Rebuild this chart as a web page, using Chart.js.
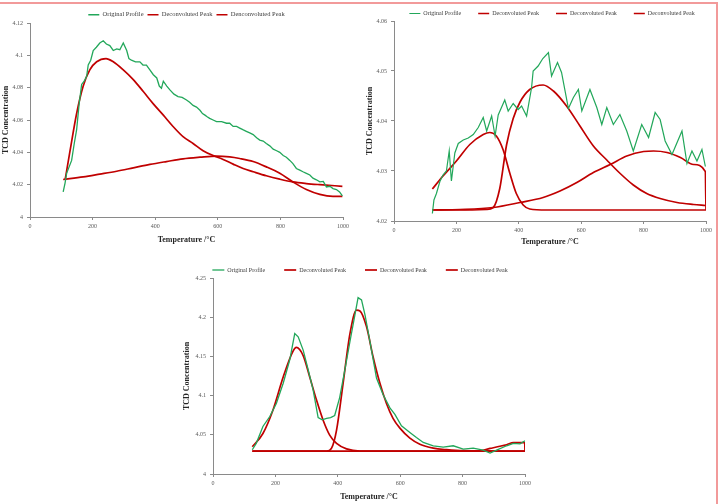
<!DOCTYPE html>
<html><head><meta charset="utf-8">
<script src="https://cdn.jsdelivr.net/npm/chart.js@4.4.1/dist/chart.umd.min.js"></script>
<style>
html,body{margin:0;padding:0;background:#fff;width:721px;height:504px;overflow:hidden;position:relative}
canvas{position:absolute}
#frame{position:absolute;left:-10px;top:2px;width:728px;height:600px;border-top:2px solid #f29a9a;border-right:2px solid #f29a9a;box-sizing:border-box}
</style></head><body>
<div id="frame"></div>
<canvas id="c1" width="360" height="252" style="left:0;top:0"></canvas>
<canvas id="c2" width="361" height="252" style="left:360px;top:0"></canvas>
<canvas id="c3" width="360" height="252" style="left:180px;top:252px"></canvas>
<script>
// ---------- data ----------
const xTicks = [0, 200, 400, 600, 800, 1000];
const yTicks1 = [4, 4.02, 4.04, 4.06, 4.08, 4.1, 4.12];
const yTicks2 = [4.02, 4.03, 4.04, 4.05, 4.06];
const yTicks3 = [4, 4.05, 4.1, 4.15, 4.2, 4.25];

const labels1 = ['Original Profile', 'Deconvoluted Peak', 'Denconvoluted Peak'];
const labels2 = ['Original Profile', 'Deconvoluted Peak', 'Deconvoluted Peak', 'Deconvoluted Peak'];
const labels3 = ['Original Profile', 'Deconvoluted Peak', 'Deconvoluted Peak', 'Deconvoluted Peak'];

// Chart 1
const c1OrigT = [106,112,117,125,133,141,149,157,165,173,181,186,194,202,212,223,234,244,255,266,277,287,298,309,316,324,337,351,361,372,383,394,405,413,420,426,437,447,460,473,486,500,510,521,532,543,551,559,566,574,585,596,612,628,638,649,660,670,680,691,702,713,724,734,745,755,766,777,788,798,809,819,830,840,851,862,872,883,894,904,915,926,937,947,958,968,979,989,998];
const c1OrigV = [4.0155,4.021,4.027,4.031,4.035,4.045,4.054,4.070,4.082,4.084,4.087,4.094,4.097,4.103,4.105,4.1076,4.109,4.107,4.106,4.103,4.104,4.1035,4.1077,4.103,4.098,4.097,4.096,4.096,4.094,4.094,4.091,4.088,4.086,4.081,4.0797,4.084,4.081,4.0786,4.076,4.0745,4.074,4.0724,4.071,4.069,4.068,4.066,4.064,4.063,4.062,4.061,4.060,4.059,4.059,4.058,4.058,4.056,4.056,4.055,4.054,4.053,4.052,4.051,4.049,4.0476,4.047,4.0455,4.044,4.042,4.041,4.040,4.038,4.037,4.035,4.033,4.030,4.029,4.028,4.027,4.026,4.024,4.023,4.0217,4.022,4.0186,4.019,4.0176,4.017,4.0155,4.013];
const c1P1T = [112,128,149,170,191,213,243,266,298,330,362,394,426,457,489,521,553,585,617,649,681,713,755,798,840,883,926,998];
const c1P1V = [4.0228,4.041,4.064,4.081,4.091,4.096,4.098,4.096,4.091,4.085,4.0776,4.070,4.063,4.056,4.0497,4.0455,4.041,4.038,4.0356,4.0327,4.030,4.028,4.0255,4.0234,4.0217,4.0207,4.020,4.019];
const c1P2T = [106,170,223,277,330,383,436,489,543,596,638,670,713,755,798,840,883,926,968,998];
const c1P2V = [4.0232,4.0248,4.0265,4.0283,4.0304,4.0325,4.0343,4.036,4.037,4.0377,4.0372,4.0362,4.0343,4.031,4.027,4.0217,4.017,4.014,4.0128,4.0128];

// Chart 2
const c2OrigT = [123,128,136,147,157,168,177,184,195,206,222,238,254,270,286,297,313,324,334,355,366,382,398,409,425,441,446,462,477,495,505,524,537,559,575,591,602,628,650,666,682,703,724,746,767,794,816,837,853,869,891,923,939,955,971,987,998];
const c2OrigV = [4.0215,4.0242,4.0255,4.0279,4.0292,4.030,4.034,4.028,4.0336,4.0355,4.0362,4.0366,4.0373,4.0387,4.0407,4.038,4.041,4.037,4.0412,4.0442,4.042,4.0435,4.0423,4.043,4.041,4.0467,4.050,4.051,4.0525,4.0537,4.049,4.0517,4.0497,4.0425,4.0447,4.0463,4.042,4.0463,4.0427,4.0393,4.0427,4.0393,4.0413,4.038,4.034,4.0393,4.0367,4.0417,4.0403,4.036,4.0333,4.038,4.0315,4.034,4.032,4.0343,4.0309];
const c2P1T = [123,157,200,243,286,307,328,350,371,392,414,435,489,600,1000];
const c2P1V = [4.0264,4.029,4.032,4.0353,4.0373,4.0377,4.037,4.0342,4.0296,4.0255,4.0232,4.0224,4.0222,4.0222,4.0222];
const c2P2T = [123,211,297,318,339,361,382,404,435,478,511,553,596,639,682,725,767,810,853,907,960,998];
const c2P2V = [4.0222,4.0222,4.0223,4.0227,4.0265,4.0353,4.0405,4.0438,4.0463,4.0472,4.046,4.043,4.039,4.035,4.0322,4.0295,4.0272,4.0255,4.0245,4.0237,4.0233,4.0231];
const c2P3T = [123,211,318,404,478,532,586,639,693,746,800,832,875,918,960,998,999,1000];
const c2P3V = [4.0222,4.0223,4.0227,4.0237,4.0247,4.026,4.0277,4.0297,4.0313,4.033,4.0339,4.034,4.0337,4.0327,4.0313,4.0299,4.026,4.0222];

// Chart 3
const c3OrigT = [126,139,160,182,203,225,246,262,273,289,305,321,337,350,364,377,390,406,422,439,455,465,476,487,503,524,545,567,583,604,631,652,674,706,738,770,802,834,866,888,909,941,963,984,1000];
const c3OrigV = [4.0309,4.0394,4.0606,4.0733,4.090,4.1157,4.1457,4.1792,4.175,4.158,4.133,4.107,4.072,4.069,4.071,4.072,4.0746,4.0975,4.1314,4.169,4.2034,4.225,4.222,4.2034,4.169,4.1225,4.1013,4.0843,4.076,4.0614,4.053,4.0466,4.0403,4.036,4.0343,4.036,4.0318,4.033,4.0305,4.0267,4.0305,4.036,4.039,4.0385,4.0424];
const c3P1T = [126,160,192,225,257,267,289,310,332,353,374,396,428,471,1000];
const c3P1V = [4.0347,4.0517,4.0814,4.1237,4.157,4.1614,4.151,4.1237,4.094,4.0686,4.0496,4.039,4.032,4.0293,4.0292];
const c3P2T = [126,364,380,396,417,439,460,471,492,513,535,556,577,599,631,663,706,749,802,1000];
const c3P2V = [4.0292,4.0292,4.033,4.056,4.1157,4.179,4.209,4.208,4.188,4.1496,4.1157,4.090,4.071,4.0585,4.0458,4.038,4.033,4.031,4.0297,4.0292];
const c3P3T = [126,845,888,941,963,999,1000];
const c3P3V = [4.0292,4.0292,4.0326,4.0373,4.040,4.040,4.0292];

// ---------- helpers ----------
const F = 'Liberation Serif';
const GREEN = '#22a75a', RED = '#c00000', AX = '#8a8a8a', TC = '#595959';
function pts(T, V) { return T.map((t, i) => ({x: t, y: V[i]})); }
function ds(label, T, V, color, w, smooth) {
  return {label, data: pts(T, V), borderColor: color, backgroundColor: color, borderWidth: w,
    pointRadius: 0, fill: false, tension: 0, cubicInterpolationMode: smooth ? 'monotone' : 'default'};
}
function legendFix(H, dx, dy) {
  return {id: 'legendFix', beforeInit(chart) {
    const lg = chart.legend;
    const fit = lg.fit.bind(lg);
    lg.fit = function () { this.maxWidth = 3000; fit(); this.height = H; };
    const draw = lg.draw.bind(lg);
    lg.draw = function () {
      const l = this.left, r = this.right, b = this.bottom;
      this.left = l - 300; this.right = r + 300; this.bottom = this.top + 100;
      const c = chart.ctx; c.save(); c.translate(dx, dy); draw(); c.restore();
      this.left = l; this.right = r; this.bottom = b;
    };
  }};
}
function make(id, c) {
  return new Chart(document.getElementById(id), {
    type: 'line',
    data: {datasets: c.datasets},
    plugins: [legendFix(c.legH, c.ldx, c.ldy)],
    options: {
      responsive: false, animation: false, devicePixelRatio: 1,
      layout: {padding: {left: 0, right: c.padR, top: 0, bottom: 0}},
      plugins: {
        legend: {display: true, position: 'top', fullSize: false,
          labels: {usePointStyle: true, pointStyle: 'line', pointStyleWidth: c.bw, padding: c.lp,
            color: '#404040', font: {family: F, size: c.lfs}}},
        tooltip: {enabled: false}
      },
      scales: {
        x: {type: 'linear', min: 0, max: 1000,
          afterBuildTicks: s => { s.ticks = xTicks.map(v => ({value: v})); },
          afterFit: s => { s.height = c.xh; },
          grid: {drawOnChartArea: false, tickLength: 3, color: AX},
          border: {color: AX, width: 1},
          ticks: {autoSkip: false, maxRotation: 0, padding: 3, color: TC, font: {family: F, size: 6}, callback: v => String(v)},
          title: {display: true, text: 'Temperature /°C', color: '#262626', padding: c.xtp,
            font: {family: F, size: 8, weight: 'bold'}}
        },
        y: {type: 'linear', min: c.ymin, max: c.ymax,
          afterBuildTicks: s => { s.ticks = c.yTicks.map(v => ({value: v})); },
          afterFit: s => { s.width = c.yw; },
          grid: {drawOnChartArea: false, tickLength: 3, color: AX},
          border: {color: AX, width: 1},
          ticks: {autoSkip: false, padding: 4, color: TC, font: {family: F, size: 6}, callback: v => String(v)},
          title: {display: true, text: 'TCD Concentration', color: '#262626', padding: c.ytp,
            font: {family: F, size: 8, weight: 'bold'}}
        }
      }
    }
  });
}

make('c1', {
  datasets: [
    ds(labels1[0], c1OrigT, c1OrigV, GREEN, 1.3, false),
    ds(labels1[1], c1P1T, c1P1V, RED, 1.7, true),
    ds(labels1[2], c1P2T, c1P2V, RED, 1.7, true)
  ],
  ymin: 4, ymax: 4.12, yTicks: yTicks1,
  padR: 17, yw: 30, xh: 35, legH: 23, ldx: 0, ldy: 7.5, lp: 4, bw: 11, lfs: 6.5, xtp: 7, ytp: 1
});
make('c2', {
  datasets: [
    ds(labels2[0], c2OrigT, c2OrigV, GREEN, 1.2, false),
    ds(labels2[1], c2P1T, c2P1V, RED, 1.7, true),
    ds(labels2[2], c2P2T, c2P2V, RED, 1.7, true),
    ds(labels2[3], c2P3T, c2P3V, RED, 1.7, true)
  ],
  ymin: 4.02, ymax: 4.06, yTicks: yTicks2,
  padR: 15, yw: 34, xh: 31, legH: 21, ldx: 2, ldy: -6.5, lp: 17, bw: 11, lfs: 6, xtp: 5, ytp: 5
});
make('c3', {
  datasets: [
    ds(labels3[0], c3OrigT, c3OrigV, GREEN, 1.3, false),
    ds(labels3[1], c3P1T, c3P1V, RED, 1.7, true),
    ds(labels3[2], c3P2T, c3P2V, RED, 1.7, true),
    ds(labels3[3], c3P3T, c3P3V, RED, 1.7, true)
  ],
  ymin: 4, ymax: 4.25, yTicks: yTicks3,
  padR: 15, yw: 33, xh: 30, legH: 26, ldx: -9, ldy: -4, lp: 19, bw: 12, lfs: 6, xtp: 2, ytp: 2
});
</script>
</body></html>
